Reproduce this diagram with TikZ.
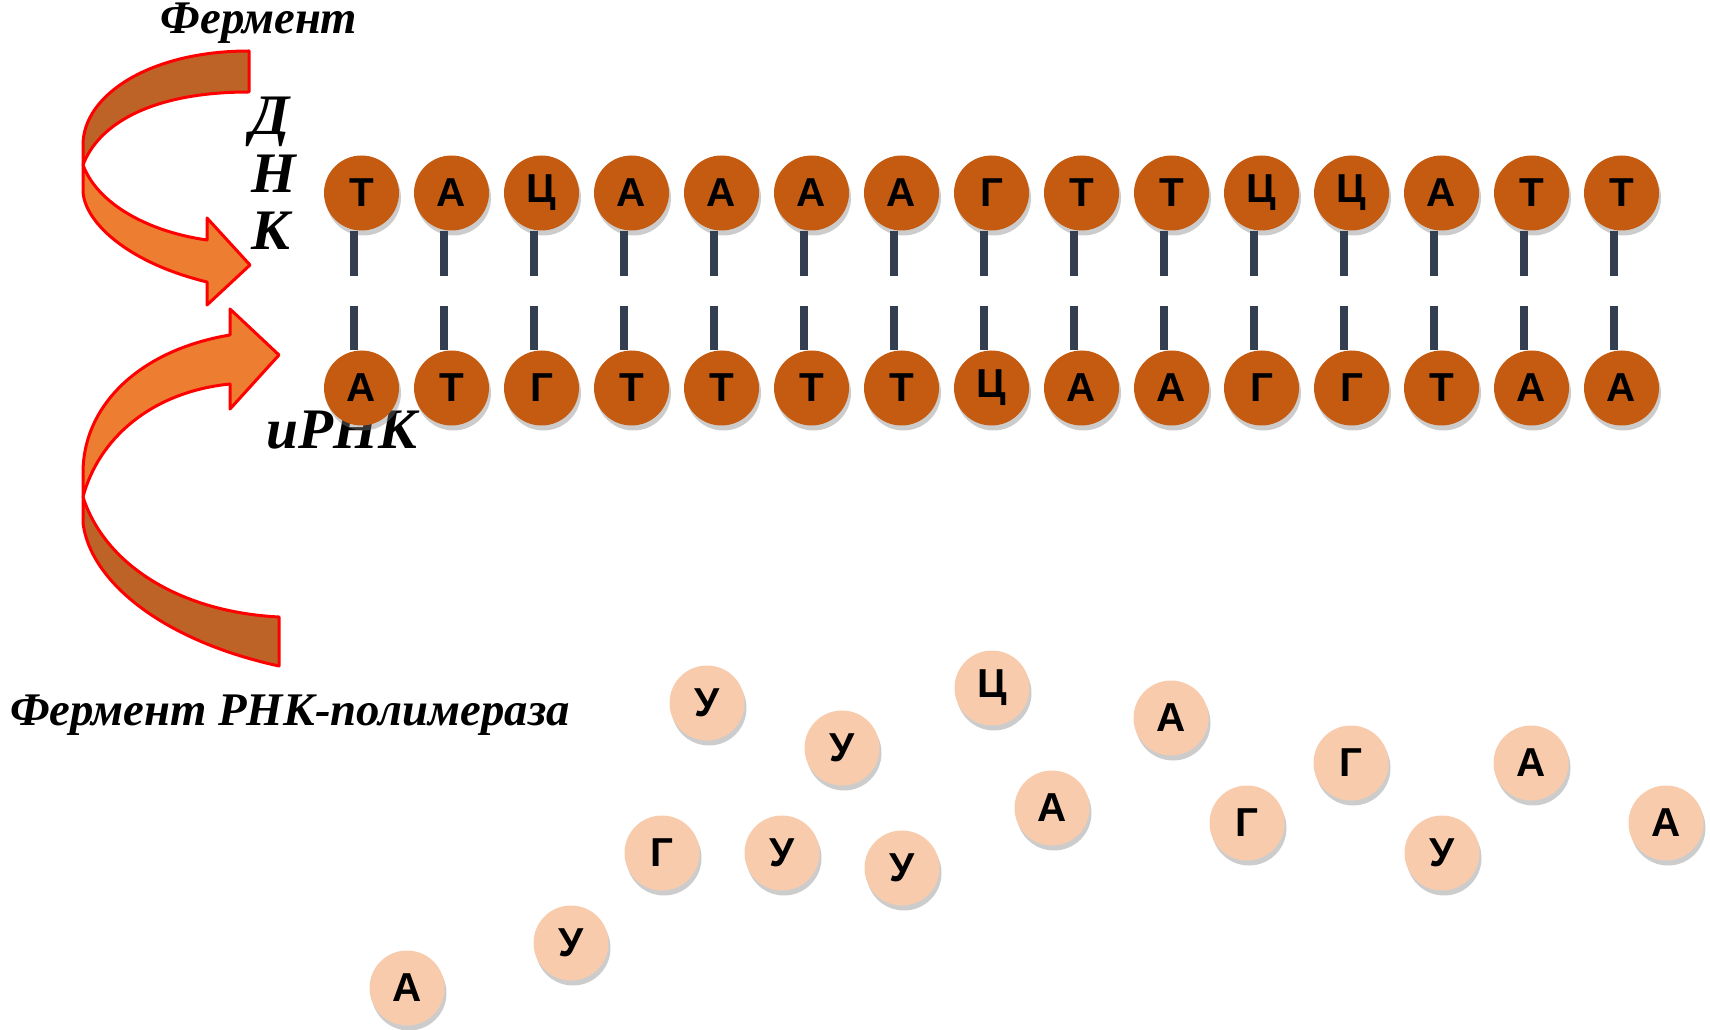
\documentclass[tikz,border=0pt]{standalone}
\usepackage{fontspec}
\setmainfont{Liberation Serif}
\newfontfamily\basefont{Liberation Sans}
\usetikzlibrary{shadows}
\definecolor{dnaorange}{HTML}{C55A11}
\definecolor{freepeach}{HTML}{F8CBAD}
\definecolor{bondslate}{HTML}{333F50}
\definecolor{arrowlight}{HTML}{ED7D31}
\definecolor{arrowdark}{HTML}{BE6328}
\tikzset{
  nucl/.style={circle, fill=dnaorange, minimum size=7.5mm, inner sep=0pt,
    font=\basefont\bfseries\fontsize{11.5}{13}\selectfont,
    drop shadow={shadow xshift=0.2mm, shadow yshift=-0.5mm, opacity=0.4}},
  freenucl/.style={nucl, fill=freepeach},
  bond/.style={bondslate, line width=0.8mm, dash pattern=on 4.5mm off 3mm on 4.5mm off 3mm},
  ribbon/.style={draw=red, line width=0.3mm, line join=round},
  biglbl/.style={font=\bfseries\itshape\fontsize{16.3}{19}\selectfont, inner sep=0pt},
  smalllbl/.style={font=\bfseries\itshape\fontsize{13.3}{16}\selectfont, inner sep=0pt}
}
\begin{document}
\begin{tikzpicture}[x=0.1mm, y=-0.1mm]
  \useasboundingbox (0,0) rectangle (1710,1030);
  % upper ribbon (enzyme -> DNA)
  \filldraw[ribbon, fill=arrowdark] (249,51) .. controls (150,51) and (83,95) .. (83,145)
    -- (83,165) .. controls (98,125) and (150,92) .. (249,92) -- cycle;
  \filldraw[ribbon, fill=arrowlight] (83,165) -- (83,190) .. controls (83,220) and (125,262) .. (207,282)
    -- (207,305) -- (250,265) -- (207,218) -- (207,240) .. controls (150,232) and (98,205) .. (83,165) -- cycle;
  % lower ribbon (RNA polymerase -> mRNA)
  \filldraw[ribbon, fill=arrowlight] (230,335) .. controls (140,350) and (83,405) .. (83,473)
    -- (83,497) .. controls (98,440) and (150,392) .. (230,384) -- (230,409) -- (279,355) -- (230,309) -- cycle;
  \filldraw[ribbon, fill=arrowdark] (83,497) -- (83,523) .. controls (90,580) and (160,640) .. (279,666)
    -- (279,617) .. controls (180,612) and (105,565) .. (83,497) -- cycle;
  % labels
  \node[smalllbl, anchor=base] (enz) at (259,34) {Фермент};
  \node[biglbl, anchor=base] (d) at (270,135) {Д};
  \node[biglbl, anchor=base] (n) at (274,193) {Н};
  \node[biglbl, anchor=base] (k) at (271,250) {К};
  \node[biglbl, anchor=base] (mrna) at (342,449) {иРНК};
  \node[smalllbl, anchor=base] (pol) at (290,725) {Фермент РНК-полимераза};
  % DNA strand
  \foreach \b [count=\i] in {Т,А,Ц,А,А,А,А,Г,Т,Т,Ц,Ц,А,Т,Т}
    \node[nucl] (t\i) at ({271.5+90*\i},193) {\b};
  % complementary strand
  \foreach \b [count=\i] in {А,Т,Г,Т,Т,Т,Т,Ц,А,А,Г,Г,Т,А,А}
    \node[nucl] (b\i) at ({271.5+90*\i},388) {\b};
  % hydrogen bonds
  \foreach \i in {1,...,15}
    \draw[bond] ([xshift=-0.75mm]t\i.south) -- ([xshift=-0.75mm]b\i.north);
  % free nucleotides
  \node[freenucl] (f1) at (707,703) {У};
  \node[freenucl] (f2) at (842,748) {У};
  \node[freenucl] (f3) at (992,688) {Ц};
  \node[freenucl] (f4) at (1052,808) {А};
  \node[freenucl] (f5) at (662,853) {Г};
  \node[freenucl] (f6) at (782,853) {У};
  \node[freenucl] (f7) at (902,868) {У};
  \node[freenucl] (f8) at (1171,718) {А};
  \node[freenucl] (f9) at (1247,823) {Г};
  \node[freenucl] (f10) at (1351,763) {Г};
  \node[freenucl] (f11) at (1442,853) {У};
  \node[freenucl] (f12) at (1531,763) {А};
  \node[freenucl] (f13) at (1666,823) {А};
  \node[freenucl] (f14) at (571,943) {У};
  \node[freenucl] (f15) at (407,988) {А};
\end{tikzpicture}
\end{document}
